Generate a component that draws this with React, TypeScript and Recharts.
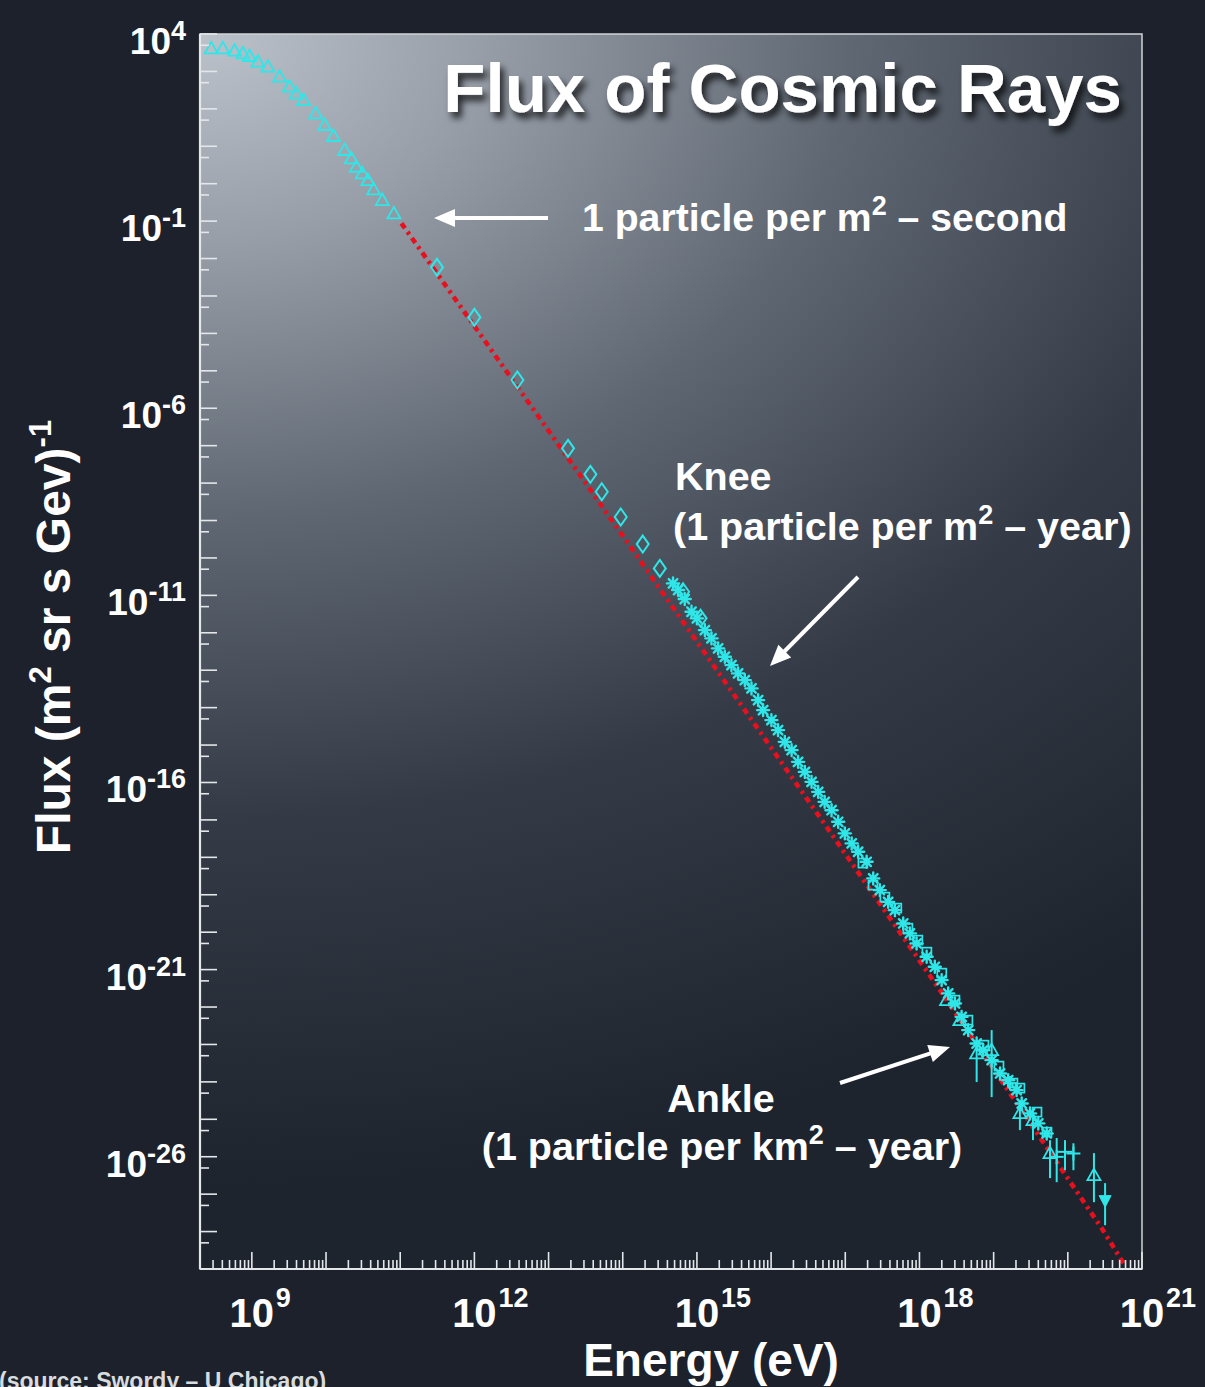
import React from 'react';
import { ComposedChart, Scatter, Line, XAxis, YAxis, CartesianGrid, ReferenceArea, ErrorBar } from 'recharts';

const FONT = '"Liberation Sans", Arial, Helvetica, sans-serif';
const CYAN = '#2fe6e8';
const RED = '#e8101e';
const AXIS = '#e4e7ea';
const PAGE_BG = '#1c212b';

// ---- data (energy in eV, flux in (m^2 sr s GeV)^-1) ----
const lowE = [2.83e8, 4.06e8, 5.85e8, 7.57e8, 9.31e8, 1.21e9, 1.64e9, 2.37e9, 3.22e9, 3.97e9, 4.98e9, 7.23e9, 9.57e9, 1.26e10, 1.78e10, 2.19e10, 2.56e10, 3.08e10, 3.67e10, 4.38e10, 5.74e10, 8.22e10];
const lowF = [4150, 4150, 3580, 3050, 2580, 1820, 1340, 723, 391, 260, 172, 76, 37, 18.8, 7.94, 4.75, 2.84, 1.89, 1.25, 0.706, 0.366, 0.161];

const diaE = [3.13e11, 1.0e12, 3.8e12, 1.83e13, 3.66e13, 5.21e13, 9.4e13, 1.86e14, 3.16e14, 6.5e14, 1.12e15];
const diaF = [5.82e-3, 2.69e-4, 5.68e-6, 8.47e-8, 1.71e-8, 5.86e-9, 1.24e-9, 2.35e-10, 5.26e-11, 1.25e-11, 2.43e-12];

const starE = [4.76e14, 5.57e14, 6.85e14, 8.45e14, 1.0e15, 1.28e15, 1.57e15, 1.93e15, 2.38e15, 2.92e15, 3.59e15, 4.42e15, 5.44e15, 6.68e15, 7.8e15, 1.01e16, 1.24e16, 1.53e16, 1.89e16, 2.31e16, 2.85e16, 3.51e16, 4.31e16, 5.27e16, 6.53e16, 8.02e16, 9.86e16, 1.22e17, 1.49e17, 1.94e17, 2.38e17, 2.92e17, 3.78e17, 4.67e17, 6.04e17, 7.43e17, 9.14e17, 1.25e18, 1.61e18, 1.99e18, 2.44e18, 3.01e18, 3.7e18, 4.54e18, 5.9e18, 7.24e18, 9.4e18, 1.22e19, 1.57e19, 2.04e19, 2.39e19, 3.09e19, 4.0e19, 5.19e19];
const starF = [2.09e-11, 1.39e-11, 7.96e-12, 3.65e-12, 2.43e-12, 1.18e-12, 7.1e-13, 3.84e-13, 2.29e-13, 1.37e-13, 8.22e-14, 5.45e-14, 3.27e-14, 1.59e-14, 8.59e-15, 4.65e-15, 2.51e-15, 1.22e-15, 7.33e-16, 3.56e-16, 1.92e-16, 1.04e-16, 5.62e-17, 3.04e-17, 1.82e-17, 8.91e-18, 4.37e-18, 2.36e-18, 1.41e-18, 7.6e-19, 2.74e-19, 1.33e-19, 6.47e-20, 3.88e-20, 1.71e-20, 9.29e-21, 5.01e-21, 2.2e-21, 1.19e-21, 5.24e-22, 2.31e-22, 1.25e-22, 5.47e-23, 2.42e-23, 1.06e-23, 7.05e-24, 3.81e-24, 1.68e-24, 1.11e-24, 6.03e-25, 2.65e-25, 1.44e-25, 7.76e-26, 4.19e-26];

const sqE = [1.73e17, 2.36e17, 3.42e17, 4.95e17, 6.98e17, 9.51e17, 1.26e18, 2.0e18, 3.01e18, 4.5e18, 7.4e18, 1.18e19, 1.82e19, 2.26e19, 3.84e19, 5.24e19];
const sqF = [7.01e-19, 1.81e-19, 8.65e-20, 4.4e-20, 1.28e-20, 6.14e-21, 2.93e-21, 8.05e-22, 1.53e-22, 4.47e-23, 9.59e-24, 2.64e-24, 9.27e-25, 6.81e-25, 1.56e-25, 4.54e-26];

const hiTriE = [2.32e18, 3.51e18, 5.9e18, 9.4e18, 2.26e19, 3.39e19, 5.75e19, 2.25e20];
const hiTriF = [1.53e-22, 4.47e-23, 5.77e-24, 7.05e-24, 1.46e-25, 9.51e-26, 1.25e-26, 3.22e-27];
const hiTriLow = [1.53e-22, 4.47e-23, 9.89e-25, 3.92e-25, 5.14e-26, 2.78e-26, 2.68e-27, 6.11e-28];
const hiTriHigh = [1.53e-22, 4.47e-23, 1.31e-23, 2.42e-23, 3.26e-25, 2.0e-25, 2.77e-26, 1.25e-26];

const crossE = [1.66e19, 7.08e19, 9.16e19, 1.19e20];
const crossF = [9.27e-25, 9.93e-27, 1.35e-26, 1.22e-26];
const crossLow = [6.0e-25, 2.09e-27, 4.37e-27, 4.37e-27];
const crossHigh = [1.4e-24, 3.16e-26, 2.77e-26, 2.29e-26];

const limitE = [3.18e20];
const limitF = [6.92e-28];
const limitLow = [1.48e-28];
const limitHigh = [1.97e-27];

const fitE = [1.04e11, 3.97e13, 5.58e16, 1.89e18, 2.98e20, 5.71e20];
const fitF = [8.73e-2, 5.32e-9, 6.55e-18, 2.83e-22, 1.09e-28, 1.35e-29];

// ---- axes ----
const X_DOMAIN: [number, number] = [2e8, 1e21];
const Y_DOMAIN: [number, number] = [1e-29, 1e4];
const xLabelExponents = [9, 12, 15, 18, 21];
const yLabelExponents = [4, -1, -6, -11, -16, -21, -26];
const xMinorMultipliers = [2, 3, 4, 5, 6, 7, 8, 9];
const yMinorMultipliers = [5];

function buildLogTicks(domain: [number, number], minors: number[]) {
  const t: number[] = [];
  const k0 = Math.floor(Math.log10(domain[0]));
  const k1 = Math.ceil(Math.log10(domain[1]));
  for (let k = k0; k <= k1; k++) {
    [1, ...minors].forEach((m) => {
      const v = Number(m + 'e' + k);
      if (v > domain[0] * 1.0001 && v <= domain[1] * 1.0001) t.push(v);
      else if (m === 1 && Math.abs(v - domain[0]) < domain[0] * 1e-6) t.push(v);
    });
  }
  return t.sort((a, b) => a - b);
}
const xTicks = buildLogTicks(X_DOMAIN, xMinorMultipliers);
const yTicks = buildLogTicks(Y_DOMAIN, yMinorMultipliers);

const rows = (E: number[], F: number[]) => E.map((e, i) => ({ E: e, F: F[i] }));
const errRows = (E: number[], F: number[], lo: number[], hi: number[]) =>
  E.map((e, i) => ({ E: e, F: F[i], err: [F[i] - lo[i], hi[i] - F[i]] }));

const lowRows = rows(lowE, lowF);
const diaRows = rows(diaE, diaF);
const starRows = rows(starE, starF);
const sqRows = rows(sqE, sqF);
const hiTriRows = errRows(hiTriE, hiTriF, hiTriLow, hiTriHigh);
const crossRows = errRows(crossE, crossF, crossLow, crossHigh);
const limitRows = errRows(limitE, limitF, limitLow, limitHigh);
const fitRows = rows(fitE, fitF);

// ---- marker shapes ----
const TriUp = (p: any) => {
  const { cx, cy } = p;
  if (cx == null || cy == null) return null;
  return <path d={`M${cx},${cy - 6.5}L${cx + 6.5},${cy + 5}L${cx - 6.5},${cy + 5}Z`} fill="none" stroke={CYAN} strokeWidth={1.8} strokeLinejoin="miter" />;
};
const TriDownFilled = (p: any) => {
  const { cx, cy } = p;
  if (cx == null || cy == null) return null;
  return <path d={`M${cx},${cy + 7}L${cx + 6},${cy - 4.5}L${cx - 6},${cy - 4.5}Z`} fill={CYAN} stroke={CYAN} strokeWidth={1} />;
};
const Diamond = (p: any) => {
  const { cx, cy } = p;
  if (cx == null || cy == null) return null;
  return <path d={`M${cx},${cy - 8.5}L${cx + 6},${cy}L${cx},${cy + 8.5}L${cx - 6},${cy}Z`} fill="none" stroke={CYAN} strokeWidth={2} />;
};
const Star = (p: any) => {
  const { cx, cy } = p;
  if (cx == null || cy == null) return null;
  return (
    <g stroke={CYAN} strokeWidth={2.4} strokeLinecap="round">
      <line x1={cx - 6} y1={cy} x2={cx + 6} y2={cy} />
      <line x1={cx} y1={cy - 6} x2={cx} y2={cy + 6} />
      <line x1={cx - 4.3} y1={cy - 4.3} x2={cx + 4.3} y2={cy + 4.3} />
      <line x1={cx - 4.3} y1={cy + 4.3} x2={cx + 4.3} y2={cy - 4.3} />
      <circle cx={cx} cy={cy} r={3} fill={CYAN} stroke="none" />
    </g>
  );
};
const Square = (p: any) => {
  const { cx, cy } = p;
  if (cx == null || cy == null) return null;
  return <rect x={cx - 4.5} y={cy - 4.5} width={9} height={9} fill="none" stroke={CYAN} strokeWidth={1.7} />;
};
const Plus = (p: any) => {
  const { cx, cy } = p;
  if (cx == null || cy == null) return null;
  return (
    <g stroke={CYAN} strokeWidth={2}>
      <line x1={cx - 7} y1={cy} x2={cx + 7} y2={cy} />
      <line x1={cx} y1={cy - 7} x2={cx} y2={cy + 7} />
    </g>
  );
};

// ---- ticks ----
const logInfo = (v: number) => {
  const lg = Math.log10(v);
  const e = Math.round(lg);
  return { e, major: Math.abs(lg - e) < 1e-6 };
};

const XTick = (props: any) => {
  const { x, y, payload } = props;
  const { e, major } = logInfo(payload.value);
  const labeled = major && xLabelExponents.includes(e);
  return (
    <g>
      <line x1={x} y1={y} x2={x} y2={y - (major ? 17 : 9)} stroke={AXIS} strokeWidth={1.6} />
      {labeled && (
        <g fill="#ffffff" fontFamily={FONT} fontWeight="bold">
          <text x={x} y={y + 58} textAnchor="middle" fontSize={40}>10</text>
          <text x={x + 24} y={y + 38} textAnchor="start" fontSize={27}>{e}</text>
        </g>
      )}
    </g>
  );
};

const YTick = (props: any) => {
  const { x, y, payload } = props;
  const { e, major } = logInfo(payload.value);
  const labeled = major && yLabelExponents.includes(e);
  return (
    <g>
      <line x1={x} y1={y} x2={x + (major ? 17 : 9)} y2={y} stroke={AXIS} strokeWidth={1.6} />
      {labeled && (
        <text x={x - 14} y={y + 20} textAnchor="end" fill="#ffffff" fontFamily={FONT} fontWeight="bold">
          <tspan fontSize={37}>10</tspan>
          <tspan fontSize={27} dy={-14}>{e}</tspan>
        </text>
      )}
    </g>
  );
};

// ---- annotation arrows ----
const Arrow = ({ x1, y1, x2, y2 }: { x1: number; y1: number; x2: number; y2: number }) => {
  const dx = x2 - x1;
  const dy = y2 - y1;
  const L = Math.hypot(dx, dy);
  const ux = dx / L;
  const uy = dy / L;
  const hl = 21;
  const hw = 9;
  const bx = x2 - ux * hl;
  const by = y2 - uy * hl;
  const px = -uy * hw;
  const py = ux * hw;
  return (
    <g>
      <line x1={x1} y1={y1} x2={bx + ux * 2} y2={by + uy * 2} stroke="#ffffff" strokeWidth={4} />
      <path d={`M${x2},${y2}L${bx + px},${by + py}L${bx - px},${by - py}Z`} fill="#ffffff" />
    </g>
  );
};

export default function App() {
  const txt = { fill: '#ffffff', fontFamily: FONT, fontWeight: 'bold' as const };
  return (
    <div style={{ position: 'absolute', left: 0, top: 0, width: 1205, height: 1387, background: PAGE_BG, overflow: 'hidden' }}>
      <svg width={0} height={0} style={{ position: 'absolute' }}>
        <defs>
          <radialGradient id="plotBg" gradientUnits="userSpaceOnUse" cx={200} cy={34} r={1150}
            gradientTransform="translate(200 34) scale(1.35 1) translate(-200 -34)">
            <stop offset="0" stopColor="#bcc2ca" />
            <stop offset="0.18" stopColor="#979ea8" />
            <stop offset="0.42" stopColor="#5f6772" />
            <stop offset="0.68" stopColor="#343b46" />
            <stop offset="1" stopColor="#1e242e" />
          </radialGradient>
          <filter id="titleShadow" x="-10%" y="-40%" width="130%" height="200%">
            <feDropShadow dx="4" dy="6" stdDeviation="3.5" floodColor="#000000" floodOpacity="0.75" />
          </filter>
        </defs>
      </svg>
      <ComposedChart width={1205} height={1387} margin={{ top: 34, right: 63, bottom: 0, left: 0 }}>
        <CartesianGrid horizontal={false} vertical={false} fill="url(#plotBg)" fillOpacity={1} />
        <XAxis
          type="number"
          dataKey="E"
          scale="log"
          domain={X_DOMAIN}
          allowDataOverflow
          ticks={xTicks}
          interval={0}
          height={118}
          tickSize={0}
          tickMargin={0}
          tickLine={false}
          tick={<XTick />}
          axisLine={{ stroke: AXIS, strokeWidth: 2.2 }}
        />
        <YAxis
          type="number"
          dataKey="F"
          scale="log"
          domain={Y_DOMAIN}
          allowDataOverflow
          ticks={yTicks}
          interval={0}
          width={200}
          tickSize={0}
          tickMargin={0}
          tickLine={false}
          tick={<YTick />}
          axisLine={{ stroke: AXIS, strokeWidth: 2.2 }}
        />
        <ReferenceArea x1={X_DOMAIN[0]} x2={X_DOMAIN[1]} y1={Y_DOMAIN[0]} y2={Y_DOMAIN[1]} fill="none" fillOpacity={0} stroke="#cfd3d8" strokeWidth={1.5} ifOverflow="visible" />
        <Line data={fitRows} dataKey="F" type="linear" dot={false} activeDot={false} stroke={RED} strokeWidth={4.6} strokeDasharray="6 4.5 3 4.5" isAnimationActive={false} />
        <Scatter data={lowRows} shape={TriUp} isAnimationActive={false} />
        <Scatter data={diaRows} shape={Diamond} isAnimationActive={false} />
        <Scatter data={sqRows} shape={Square} isAnimationActive={false} />
        <Scatter data={starRows} shape={Star} isAnimationActive={false} />
        <Scatter data={hiTriRows} shape={TriUp} isAnimationActive={false}>
          <ErrorBar dataKey="err" direction="y" width={0} stroke={CYAN} strokeWidth={2} />
        </Scatter>
        <Scatter data={crossRows} shape={Plus} isAnimationActive={false}>
          <ErrorBar dataKey="err" direction="y" width={0} stroke={CYAN} strokeWidth={2} />
        </Scatter>
        <Scatter data={limitRows} shape={TriDownFilled} isAnimationActive={false}>
          <ErrorBar dataKey="err" direction="y" width={0} stroke={CYAN} strokeWidth={2} />
        </Scatter>
      </ComposedChart>
      <svg width={1205} height={1387} style={{ position: 'absolute', left: 0, top: 0, pointerEvents: 'none' }}>
        <text x={1122} y={112} textAnchor="end" fontSize={69} {...txt} filter="url(#titleShadow)">Flux of Cosmic Rays</text>

        <Arrow x1={548} y1={218} x2={434} y2={218} />
        <text x={582} y={231} fontSize={39.2} {...txt}>
          1 particle per m<tspan fontSize={27} dy={-16}>2</tspan><tspan dy={16}> – second</tspan>
        </text>

        <text x={675} y={490} fontSize={39.5} {...txt}>Knee</text>
        <text x={673} y={540} fontSize={39.5} {...txt}>
          (1 particle per m<tspan fontSize={27} dy={-16}>2</tspan><tspan dy={16}> – year)</tspan>
        </text>
        <Arrow x1={858} y1={577} x2={770} y2={666} />

        <text x={721} y={1112} textAnchor="middle" fontSize={39.5} {...txt}>Ankle</text>
        <text x={722} y={1160} textAnchor="middle" fontSize={39.5} {...txt}>
          (1 particle per km<tspan fontSize={27} dy={-16}>2</tspan><tspan dy={16}> – year)</tspan>
        </text>
        <Arrow x1={840} y1={1083} x2={950} y2={1047} />

        <text x={711} y={1376} textAnchor="middle" fontSize={46} {...txt}>Energy (eV)</text>
        <text x={70} y={637} textAnchor="middle" fontSize={48} {...txt} transform="rotate(-90 70 637)">
          Flux (m<tspan fontSize={31} dy={-19}>2</tspan><tspan dy={19}> sr s Gev)</tspan><tspan fontSize={31} dy={-19}>-1</tspan>
        </text>

        <text x={-1} y={1389} fontSize={23} fill="#d9dcdf" fontFamily={FONT} fontWeight="bold">(source: Swordy – U Chicago)</text>
      </svg>
    </div>
  );
}
